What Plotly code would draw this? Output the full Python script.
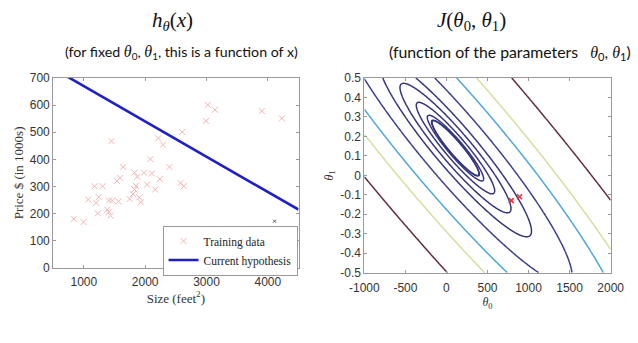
import numpy as np
import plotly.graph_objects as go

# ---------------- data ----------------
sizes = [838, 994, 1072, 1175, 1201, 1227, 1243, 1305, 1383, 1409,
         1435, 1409, 1450, 1461, 1539, 1564, 1590, 1642, 1747, 1800,
         1825, 1825, 1850, 1872, 1903, 1929, 1980, 2032, 2084, 2110,
         2163, 2214, 2240, 2292, 2396, 2577, 2604, 2630, 2993, 3020,
         3138, 3902, 4229]
prices = [181, 169, 252, 301, 240, 201, 261, 301, 214, 207,
          193, 248, 467, 248, 320, 245, 332, 372, 254, 272,
          351, 289, 302, 336, 260, 242, 351, 307, 401, 348,
          289, 478, 327, 454, 372, 313, 501, 301, 542, 601,
          583, 578, 551]
stray_x = [4110]
stray_y = [172]

hyp_theta0 = 800
hyp_theta1 = -0.13

marked_theta0 = [790, 890]
marked_theta1 = [-0.13, -0.11]

# bowl of the cost surface
bowl_center_t0 = 110
bowl_center_t1 = 0.14
bowl_tilt = 1900
bowl_width = 520000

# contour pass-through points (two per contour) and colours
contour_a_t0 = [-55, -113, -190, -306, -480, -698, -990, 791, 462, 15]
contour_a_t1 = [0.167, 0.208, 0.25, 0.307, 0.38, 0.495, 0.5, -0.5, -0.5, -0.5]
contour_b_t0 = [114, 269, 443, 616, 829, 1140, 1560, 1960, 364, 800]
contour_b_t1 = [0.093, 0.028, -0.03, -0.111, -0.218, -0.357, -0.5, -0.5, 0.5, 0.5]
contour_colors = ["#35357d", "#35357d", "#35357d", "#35357d", "#35357d",
                  "#35357d", "#3b3e8c", "#4ea5d8", "#d8dc9c", "#5e2a3c"]

size_ticks = [1000, 2000, 3000, 4000]
price_ticks = [0, 100, 200, 300, 400, 500, 600, 700]
t0_ticks = [-1000, -500, 0, 500, 1000, 1500, 2000]
t1_ticks = [-0.5, -0.4, -0.3, -0.2, -0.1, 0, 0.1, 0.2, 0.3, 0.4, 0.5]


def cost(t0, t1):
    d0 = np.asarray(t0, float) - bowl_center_t0
    d1 = np.asarray(t1, float) - bowl_center_t1
    return (d0 + bowl_tilt * d1) ** 2 + bowl_width * d1 ** 2


g0 = np.linspace(-1000, 2000, 301)
g1 = np.linspace(-0.5, 0.5, 201)
G0, G1 = np.meshgrid(g0, g1)
J = cost(G0, G1)

W, H = 638, 343
FONT_SANS = "Liberation Sans, Arial, sans-serif"
FONT_SERIF = "Liberation Serif, Times New Roman, serif"

fig = go.Figure()

# left panel
fig.add_trace(go.Scatter(
    x=sizes, y=prices, mode="markers", name="Training data",
    marker=dict(symbol="x-thin", size=6, color="#f3b4b4",
                line=dict(width=1, color="#f3b4b4")),
    xaxis="x", yaxis="y"))
fig.add_trace(go.Scatter(
    x=stray_x, y=stray_y, mode="markers", showlegend=False,
    marker=dict(symbol="x-thin", size=3, color="#555",
                line=dict(width=1, color="#555")),
    xaxis="x", yaxis="y"))
line_x = np.array([500, 4500], float)
fig.add_trace(go.Scatter(
    x=line_x, y=hyp_theta0 + hyp_theta1 * line_x, mode="lines",
    name="Current hypothesis", line=dict(color="#1f1fc8", width=2.6),
    xaxis="x", yaxis="y"))

# right panel contours
for a0, a1, b0, b1, c in zip(contour_a_t0, contour_a_t1, contour_b_t0,
                             contour_b_t1, contour_colors):
    ra = np.sqrt(cost(a0, a1))
    rb = np.sqrt(cost(b0, b1))
    level = ((ra + rb) / 2) ** 2
    fig.add_trace(go.Contour(
        x=g0, y=g1, z=J, xaxis="x2", yaxis="y2", showscale=False,
        contours=dict(type="constraint", operation="=", value=float(level)),
        line=dict(color=c, width=1.5), hoverinfo="skip", showlegend=False))

fig.add_trace(go.Scatter(
    x=marked_theta0, y=marked_theta1, mode="markers", showlegend=False,
    marker=dict(symbol="x-thin", size=5, color="#e03a3a",
                line=dict(width=1.6, color="#e03a3a")),
    xaxis="x2", yaxis="y2"))

axis_common = dict(showline=True, linecolor="#9a9a9a", linewidth=1,
                   mirror="ticks", ticks="inside", ticklen=3,
                   tickcolor="#9a9a9a", showgrid=False, zeroline=False,
                   tickfont=dict(family=FONT_SANS, size=12, color="#333"))

fig.update_layout(
    width=W, height=H, margin=dict(l=0, r=0, t=0, b=0),
    paper_bgcolor="white", plot_bgcolor="white",
    xaxis=dict(domain=[40 / W, 297 / W], range=[500, 4500],
               tickvals=size_ticks, ticktext=[str(v) for v in size_ticks],
               ticklabelstandoff=3,
               title=dict(text="Size (feet<sup>2</sup>)", standoff=2,
                          font=dict(family=FONT_SERIF, size=13, color="#333")),
               anchor="y", **axis_common),
    yaxis=dict(domain=[1 - 272 / H, 1 - 74 / H], range=[0, 700],
               tickvals=price_ticks, ticktext=[str(v) for v in price_ticks],
               title=dict(text="Price $ (in 1000s)", standoff=3,
                          font=dict(family=FONT_SERIF, size=13, color="#333")),
               anchor="x", **axis_common),
    xaxis2=dict(domain=[366 / W, 624 / W], range=[-1000, 2000],
                tickvals=t0_ticks, ticktext=[f"{v:g}" for v in t0_ticks],
                ticklabelstandoff=4,
                title=dict(text="<i>θ</i><sub>0</sub>", standoff=0,
                           font=dict(family=FONT_SERIF, size=12, color="#333")),
                anchor="y2", **axis_common),
    yaxis2=dict(domain=[1 - 277 / H, 1 - 74 / H], range=[-0.5, 0.5],
                tickvals=t1_ticks, ticktext=[f"{v:g}" for v in t1_ticks],
                title=dict(text="<i>θ</i><sub>1</sub>", standoff=4,
                           font=dict(family=FONT_SERIF, size=12, color="#333")),
                anchor="x2", **axis_common),
    legend=dict(x=296 / W, y=1 - 280 / H, xanchor="right", yanchor="bottom",
                bgcolor="white", bordercolor="#9a9a9a", borderwidth=1,
                font=dict(family=FONT_SERIF, size=11.5, color="#222"),
                tracegroupgap=0, itemwidth=30),
    showlegend=True,
)

TH = '<span style="font-family:Liberation Serif;font-size:16px"><i>θ</i></span>'
annos = [
    dict(text="<i>h</i><sub><i>θ</i></sub>(<i>x</i>)", x=165 / W, y=1 - 15 / H,
         font=dict(family=FONT_SERIF, size=21, color="#111")),
    dict(text="<i>J</i>(<i>θ</i><sub>0</sub>, <i>θ</i><sub>1</sub>)", x=478 / W, y=1 - 15 / H,
         font=dict(family=FONT_SERIF, size=21, color="#111")),
    dict(text=f"(for fixed {TH}<sub>0</sub>, {TH}<sub>1</sub>, this is a function of x)",
         x=174 / W, y=1 - 47 / H, font=dict(family="Lato, sans-serif", size=14.2, color="#111")),
    dict(text=f"(function of the parameters   {TH}<sub>0</sub>, {TH}<sub>1</sub>)",
         x=519 / W, y=1 - 47 / H, font=dict(family="Lato, sans-serif", size=15.8, color="#111")),
]
for a in annos:
    fig.add_annotation(xref="paper", yref="paper", showarrow=False,
                       xanchor="center", yanchor="middle", **a)

fig.write_html("out.html")
